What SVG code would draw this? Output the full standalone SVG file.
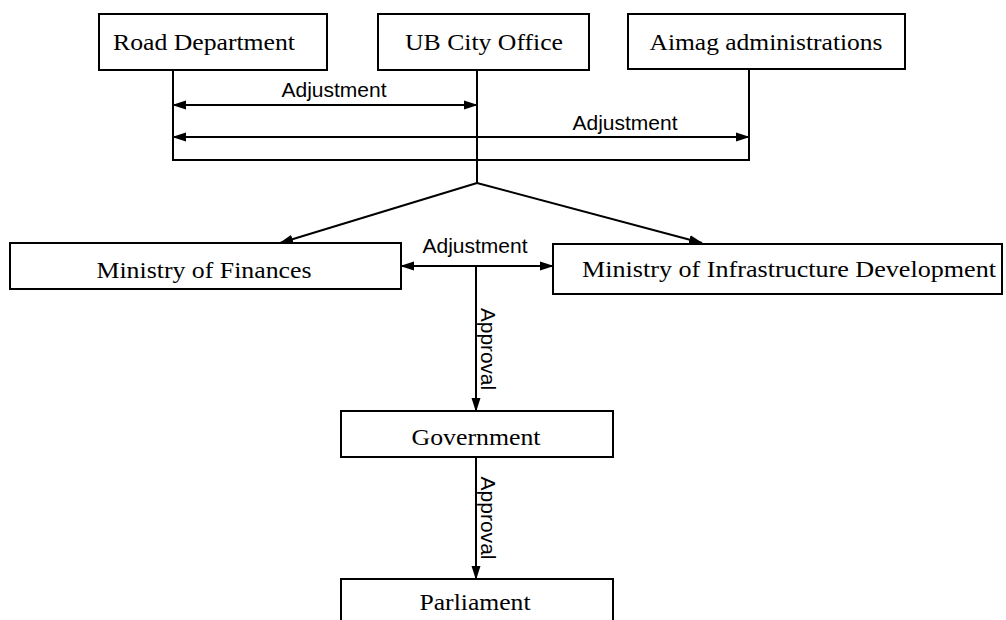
<svg xmlns="http://www.w3.org/2000/svg" width="1006" height="620" viewBox="0 0 1006 620">
<style>
.box{fill:#fff;stroke:#000;stroke-width:2}
.nt{font-family:"Liberation Serif","Times New Roman",serif;font-size:24px;fill:#000;text-anchor:middle}
.lt{font-family:"Liberation Sans",Arial,sans-serif;font-size:20px;fill:#000;text-anchor:middle}
.ln{fill:none;stroke:#000;stroke-width:2}
</style>
<defs>
<marker id="ah" markerUnits="userSpaceOnUse" markerWidth="14" markerHeight="10" refX="13" refY="5" orient="auto-start-reverse" viewBox="0 0 14 10">
<path d="M0,0.5 L14,5 L0,9.5 z" fill="#000"/>
</marker>
</defs>
<rect width="1006" height="620" fill="#fff"/>
<g id="road-department"><rect class="box" x="99" y="14" width="228" height="56"/><text class="nt" x="204" y="50" textLength="182" lengthAdjust="spacingAndGlyphs">Road Department</text></g>
<g id="ub-city-office"><rect class="box" x="378" y="14" width="211" height="56"/><text class="nt" x="484" y="50" textLength="158" lengthAdjust="spacingAndGlyphs">UB City Office</text></g>
<g id="aimag-administrations"><rect class="box" x="628" y="14" width="277" height="55"/><text class="nt" x="766" y="50" textLength="233" lengthAdjust="spacingAndGlyphs">Aimag administrations</text></g>
<g id="ministry-of-finances"><rect class="box" x="10" y="243" width="391" height="46"/><text class="nt" x="204" y="278" textLength="215" lengthAdjust="spacingAndGlyphs">Ministry of Finances</text></g>
<g id="ministry-of-infrastructure"><rect class="box" x="553" y="244" width="449" height="50"/><text class="nt" x="789" y="277" textLength="414" lengthAdjust="spacingAndGlyphs">Ministry of Infrastructure Development</text></g>
<g id="government"><rect class="box" x="341" y="411" width="272" height="46"/><text class="nt" x="476" y="445" textLength="129" lengthAdjust="spacingAndGlyphs">Government</text></g>
<g id="parliament"><rect class="box" x="341" y="579" width="272" height="50"/><text class="nt" x="475" y="610" textLength="111" lengthAdjust="spacingAndGlyphs">Parliament</text></g>
<g id="connectors">
<path class="ln" d="M173,70 V160 H749 V69"/>
<path class="ln" d="M477,70 V183"/>
<path class="ln" d="M173,105 H477" marker-start="url(#ah)" marker-end="url(#ah)"/>
<path class="ln" d="M173,137 H749" marker-start="url(#ah)" marker-end="url(#ah)"/>
<path class="ln" d="M477,183 L280,243" marker-end="url(#ah)"/>
<path class="ln" d="M477,183 L702,243" marker-end="url(#ah)"/>
<path class="ln" d="M401,266 H553" marker-start="url(#ah)" marker-end="url(#ah)"/>
<path class="ln" d="M476,266 V411" marker-end="url(#ah)"/>
<path class="ln" d="M476,457 V579" marker-end="url(#ah)"/>
<text class="lt" x="334" y="97" textLength="105" lengthAdjust="spacingAndGlyphs">Adjustment</text>
<text class="lt" x="625" y="130" textLength="105" lengthAdjust="spacingAndGlyphs">Adjustment</text>
<text class="lt" x="475" y="253" textLength="105" lengthAdjust="spacingAndGlyphs">Adjustment</text>
<text class="lt" transform="translate(481,349) rotate(90)" x="0" y="0" textLength="82" lengthAdjust="spacingAndGlyphs">Approval</text>
<text class="lt" transform="translate(481,518) rotate(90)" x="0" y="0" textLength="83" lengthAdjust="spacingAndGlyphs">Approval</text>
</g>
</svg>
